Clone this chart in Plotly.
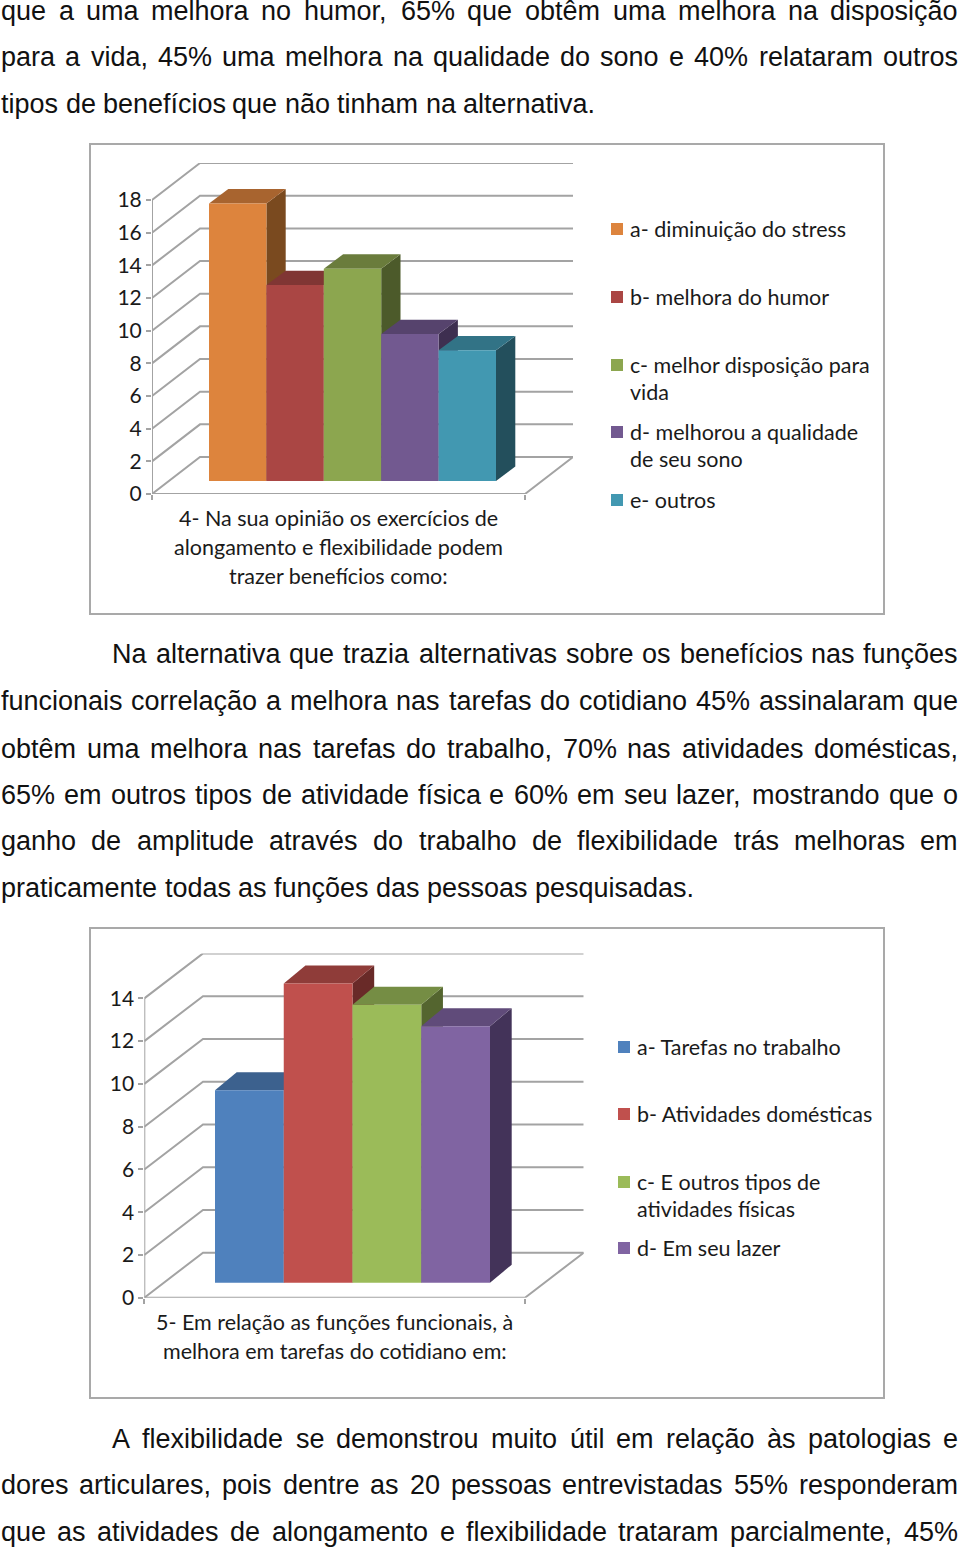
import unicodedata
import plotly.graph_objects as go

W, H = 960, 1548
BODY_FONT = "Liberation Sans"
CHART_FONT = "Lato"
BODY_SIZE = 27
CHART_SIZE = 21.5
GRID = "#a3a3a3"
FRAME = "#a9a9a9"

# ---------- data ----------
c1_names = ["a- diminuição do stress", "b- melhora do humor", "c- melhor disposição para\nvida",
            "d- melhorou a qualidade\nde seu sono", "e- outros"]
c1_values = [17, 12, 13, 9, 8]
c1_front = ["#DD843D", "#AA4644", "#8CA64F", "#725990", "#4298B1"]
c1_top = ["#A8642F", "#803634", "#6A7C3C", "#56436D", "#327386"]
c1_side = ["#7A4A1F", "#6B2C2B", "#4C5A2A", "#3E2F50", "#234F5C"]
c1_ticks = [0, 2, 4, 6, 8, 10, 12, 14, 16, 18]
c1_xlabel = ["4- Na sua opinião os exercícios de", "alongamento e flexibilidade podem", "trazer benefícios como:"]

c2_names = ["a- Tarefas no trabalho", "b- Atividades domésticas", "c- E outros tipos de\natividades físicas", "d- Em seu lazer"]
c2_values = [9, 14, 13, 12]
c2_front = ["#4F81BD", "#C0504D", "#9BBB59", "#8064A2"]
c2_top = ["#3C618E", "#8F3C39", "#758D44", "#604B7A"]
c2_side = ["#2A4565", "#692A28", "#54652F", "#433359"]
c2_ticks = [0, 2, 4, 6, 8, 10, 12, 14]
c2_xlabel = ["5- Em relação as funções funcionais, à", "melhora em tarefas do cotidiano em:"]

# (text, left px, centre y px, justified)
body_lines = [
    ("que a uma melhora no humor, 65% que obtêm uma melhora na disposição", 1, 11, True),
    ("para a vida, 45% uma melhora na qualidade do sono e 40% relataram outros", 1, 57, True),
    ("tipos de benefícios que não tinham na alternativa.", 1, 104, False),
    ("Na alternativa que trazia alternativas sobre os benefícios nas funções", 112, 654, True),
    ("funcionais correlação a melhora nas tarefas do cotidiano 45% assinalaram que", 1, 701, True),
    ("obtêm uma melhora nas tarefas do trabalho, 70% nas atividades domésticas,", 1, 749, True),
    ("65% em outros tipos de atividade física e 60% em seu lazer, mostrando que o", 1, 795, True),
    ("ganho de amplitude através do trabalho de flexibilidade trás melhoras em", 1, 841, True),
    ("praticamente todas as funções das pessoas pesquisadas.", 1, 888, False),
    ("A flexibilidade se demonstrou muito útil em relação às patologias e", 112, 1439, True),
    ("dores articulares, pois dentre as 20 pessoas entrevistadas 55% responderam", 1, 1485, True),
    ("que as atividades de alongamento e flexibilidade trataram parcialmente, 45%", 1, 1532, True),
]

# ---------- layout geometry (pixels on the page / axis units) ----------
charts = [
    dict(names=c1_names, values=c1_values, front=c1_front, top=c1_top, side=c1_side, ticks=c1_ticks,
         xlabel=c1_xlabel, frame=(90, 144, 884, 614), x0=152, x1=525, backx=48, y0=494, unit=16.33,
         backy=37, bar_left=209, bar_w=57.4, bar_base=13, side_dx=19.3, side_dy=14.4,
         label_ys=[518, 547, 576], sw_x=611, text_x=630, rows=[229, 297, 365, 432, 500]),
    dict(names=c2_names, values=c2_values, front=c2_front, top=c2_top, side=c2_side, ticks=c2_ticks,
         xlabel=c2_xlabel, frame=(90, 928, 884, 1398), x0=144.3, x1=525, backx=58.7, y0=1297.7, unit=21.38,
         backy=45, bar_left=215, bar_w=68.75, bar_base=15, side_dx=21.7, side_dy=18,
         label_ys=[1322, 1351], sw_x=618, text_x=637, rows=[1047, 1114, 1182, 1248]),
]

HELV = dict(zip("abcdefghijklmnopqrstuvwxyz",
                [556, 556, 500, 556, 556, 278, 556, 556, 222, 222, 500, 222, 833, 556, 556, 556, 556, 333, 500, 278,
                 556, 500, 722, 500, 500, 500]))
HELV.update({c: 556 for c in "0123456789"})
HELV.update({"%": 889, ",": 278, ".": 278, "N": 722, "A": 667, " ": 278})


def text_w(s):
    return sum(HELV[unicodedata.normalize("NFD", c)[0]] for c in s) * BODY_SIZE / 1000


def px(x):
    return x / W


def py(y):
    return 1 - y / H


fig = go.Figure()
annotations, shapes = [], []
layout_axes = {}

RIGHT_EDGE = 958
for text, left, yc, just in body_lines:
    words = text.split(" ")
    if just:
        gap = (RIGHT_EDGE - left - sum(text_w(w) for w in words)) / (len(words) - 1)
    else:
        gap = text_w(" ")
    x = left
    for w in words:
        annotations.append(dict(text=w, x=px(x), y=py(yc), xref="paper", yref="paper", xanchor="left",
                                yanchor="middle", showarrow=False, borderpad=0, borderwidth=0,
                                font=dict(family=BODY_FONT, size=BODY_SIZE, color="#111111")))
        x += text_w(w) + gap


def axname(n, kind):
    return f"{kind}{'' if n == 1 else n}"


n_ax = 0
for c in charts:
    span = c["x1"] - c["x0"]
    shift_x = c["backx"] / span
    shift_y = c["backy"] / c["unit"]
    vmax = c["ticks"][-1]
    xrange_ = [0, 1 + shift_x]
    yrange_ = [0, vmax + shift_y]
    dom_x = [px(c["x0"]), px(c["x1"] + c["backx"])]
    dom_y = [py(c["y0"]), py(c["y0"] - (vmax * c["unit"] + c["backy"]))]

    base_n, face_n, bar_n = n_ax + 1, n_ax + 2, n_ax + 3
    n_ax += 3
    for n in (base_n, face_n, bar_n):
        xa = dict(domain=dom_x, range=xrange_, showgrid=False, zeroline=False, showline=False,
                  anchor=axname(n, "y"), fixedrange=True, automargin=False)
        ya = dict(domain=dom_y, range=yrange_, showgrid=False, zeroline=False, showline=False,
                  anchor=axname(n, "x"), fixedrange=True, automargin=False)
        if n == base_n:
            xa.update(tickvals=[], showticklabels=False,
                      minor=dict(tickvals=[0, 1], ticks="outside", ticklen=5, tickwidth=2, tickcolor=GRID))
            ya.update(tickvals=c["ticks"], ticktext=[str(t) for t in c["ticks"]], ticks="outside", ticklen=5,
                      tickwidth=2, tickcolor=GRID, ticklabelstandoff=0,
                      tickfont=dict(family=CHART_FONT, size=21, color="#1a1a1a"))
        else:
            xa.update(overlaying=axname(base_n, "x"), visible=False)
            ya.update(overlaying=axname(base_n, "y"), visible=False)
        layout_axes[axname(n, "xaxis")] = xa
        layout_axes[axname(n, "yaxis")] = ya

    # walls and floor
    gx, gy = [], []
    for t in c["ticks"]:
        gx += [0, shift_x, 1 + shift_x, None]
        gy += [t, t + shift_y, t + shift_y, None]
    gx += [0, 0, None, 0, 1, 1 + shift_x]
    gy += [0, vmax, None, 0, 0, shift_y]
    fig.add_trace(go.Scatter(x=gx, y=gy, mode="lines", line=dict(color=GRID, width=2), cliponaxis=False,
                             showlegend=False, hoverinfo="skip",
                             xaxis=axname(base_n, "x"), yaxis=axname(base_n, "y")))

    # bars
    bw = c["bar_w"] / span
    left0 = (c["bar_left"] - c["x0"]) / span
    base = c["bar_base"] / c["unit"]
    sdx = c["side_dx"] / span
    sdy = c["side_dy"] / c["unit"]
    for i, v in enumerate(c["values"]):
        l = left0 + i * bw
        r = l + bw
        t = base + v
        fig.add_trace(go.Scatter(x=[r, r + sdx, r + sdx, r, r], y=[base, base + sdy, t + sdy, t, base],
                                 mode="lines", fill="toself", fillcolor=c["side"][i], line=dict(width=0),
                                 showlegend=False, hoverinfo="skip",
                                 xaxis=axname(face_n, "x"), yaxis=axname(face_n, "y")))
        fig.add_trace(go.Scatter(x=[l, r, r + sdx, l + sdx, l], y=[t, t, t + sdy, t + sdy, t],
                                 mode="lines", fill="toself", fillcolor=c["top"][i], line=dict(width=0),
                                 showlegend=False, hoverinfo="skip",
                                 xaxis=axname(face_n, "x"), yaxis=axname(face_n, "y")))
        fig.add_trace(go.Bar(x=[l + bw / 2], y=[v], base=[base], width=[bw], marker=dict(color=c["front"][i], line=dict(width=0)),
                             name=c["names"][i].replace("\n", " "), showlegend=False,
                             xaxis=axname(bar_n, "x"), yaxis=axname(bar_n, "y")))

    # frame
    fx0, fy0, fx1, fy1 = c["frame"]
    shapes.append(dict(type="rect", xref="paper", yref="paper", x0=px(fx0), x1=px(fx1), y0=py(fy1), y1=py(fy0),
                       line=dict(color=FRAME, width=2), fillcolor="rgba(0,0,0,0)", layer="below"))

    # category label
    mid = px((c["x0"] + c["x1"]) / 2)
    for line, yc in zip(c["xlabel"], c["label_ys"]):
        annotations.append(dict(text=line, x=mid, y=py(yc), xref="paper", yref="paper", xanchor="center",
                                yanchor="middle", showarrow=False, borderpad=0, borderwidth=0,
                                font=dict(family=CHART_FONT, size=CHART_SIZE, color="#1a1a1a")))

    # legend
    for name, col, row in zip(c["names"], c["front"], c["rows"]):
        shapes.append(dict(type="rect", xref="paper", yref="paper", x0=px(c["sw_x"]), x1=px(c["sw_x"] + 12),
                           y0=py(row + 6), y1=py(row - 6), line=dict(width=0), fillcolor=col))
        for j, part in enumerate(name.split("\n")):
            annotations.append(dict(text=part, x=px(c["text_x"]), y=py(row + j * 27), xref="paper", yref="paper",
                                    xanchor="left", yanchor="middle", showarrow=False, borderpad=0, borderwidth=0,
                                    font=dict(family=CHART_FONT, size=CHART_SIZE, color="#1a1a1a")))

fig.update_layout(width=W, height=H, margin=dict(l=0, r=0, t=0, b=0), autosize=False,
                  paper_bgcolor="white", plot_bgcolor="rgba(0,0,0,0)", barmode="overlay",
                  showlegend=False, annotations=annotations, shapes=shapes, **layout_axes)

fig.write_html("out.html", post_script="document.body.style.margin='0';window.dispatchEvent(new Event('resize'));",
               config=dict(displayModeBar=False))
